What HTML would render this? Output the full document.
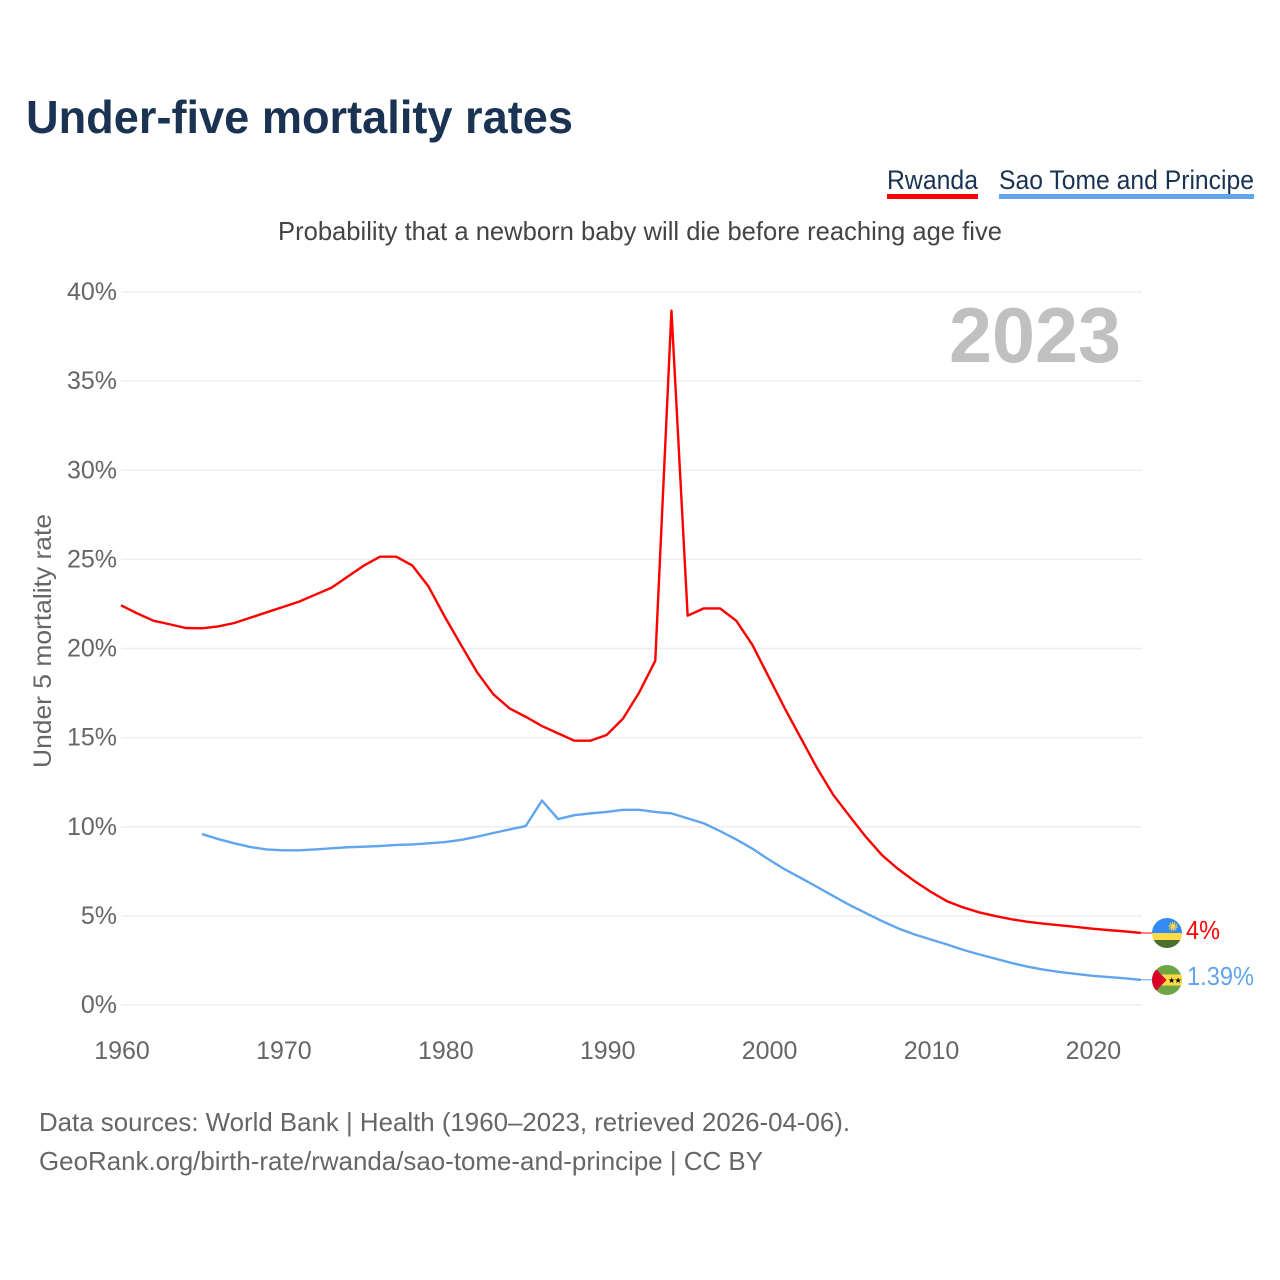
<!DOCTYPE html>
<html lang="en">
<head>
<meta charset="utf-8">
<title>Under-five mortality rates</title>
<style>
html,body{margin:0;padding:0;background:#fff;width:1280px;height:1280px;overflow:hidden}
svg{display:block}
text{font-family:"Liberation Sans",sans-serif}
</style>
</head>
<body>
<svg id="chart" width="1280" height="1280" viewBox="0 0 1280 1280" xmlns="http://www.w3.org/2000/svg">
  <defs>
    <clipPath id="flag-clip-a"><circle cx="1167" cy="933" r="15"/></clipPath>
    <clipPath id="flag-clip-b"><circle cx="1167" cy="980" r="15"/></clipPath>
  </defs>
  <text x="26" y="133" font-size="46" font-weight="700" fill="#1a3353" textLength="547" lengthAdjust="spacingAndGlyphs">Under-five mortality rates</text>

  <g>
    <text x="887" y="189" font-size="27" fill="#1a3353" textLength="91" lengthAdjust="spacingAndGlyphs">Rwanda</text>
    <rect x="887" y="194" width="91" height="5" fill="#ff0000"/>
  </g>
  <g>
    <text x="999" y="189" font-size="27" fill="#1a3353" textLength="255" lengthAdjust="spacingAndGlyphs">Sao Tome and Principe</text>
    <rect x="999" y="194" width="255" height="5" fill="#60a5ee"/>
  </g>

  <text x="278" y="240" font-size="26" fill="#444" textLength="724" lengthAdjust="spacingAndGlyphs">Probability that a newborn baby will die before reaching age five</text>

  <g id="grid"></g>
  <text x="949" y="362" font-size="78" font-weight="700" fill="#c0c0c0" textLength="172" lengthAdjust="spacingAndGlyphs">2023</text>
  <g id="y-ticks"></g>
  <g id="x-ticks"></g>
  <text transform="translate(51,641) rotate(-90)" text-anchor="middle" font-size="25" fill="#666" textLength="254" lengthAdjust="spacingAndGlyphs">Under 5 mortality rate</text>

  <g id="series"></g>

  <g clip-path="url(#flag-clip-a)">
    <rect x="1152" y="918" width="30" height="16" fill="#338af3"/>
    <rect x="1152" y="933" width="30" height="8" fill="#ffda44"/>
    <rect x="1152" y="940" width="30" height="8" fill="#496e2d"/>
    <circle cx="1173" cy="926.5" r="2.6" fill="#ffda44"/>
    <circle cx="1173" cy="926.5" r="3.7" fill="none" stroke="#ffda44" stroke-width="1.6" stroke-dasharray="1.3 1"/>
  </g>
  <g clip-path="url(#flag-clip-b)">
    <rect x="1152" y="965" width="30" height="30" fill="#6da544"/>
    <rect x="1152" y="974.5" width="30" height="11" fill="#ffda44"/>
    <polygon points="1152,965 1166.5,980 1152,995" fill="#d80027"/>
    <text x="1168" y="983" font-size="8" fill="#000">★</text>
    <text x="1174.5" y="983" font-size="8" fill="#000">★</text>
  </g>
  <text x="1186" y="939" font-size="26" fill="#ff0000" textLength="34" lengthAdjust="spacingAndGlyphs">4%</text>
  <text x="1187" y="985" font-size="26" fill="#60a5ee" textLength="67" lengthAdjust="spacingAndGlyphs">1.39%</text>

  <text x="39" y="1131" font-size="26" fill="#666" textLength="811" lengthAdjust="spacingAndGlyphs">Data sources: World Bank | Health (1960–2023, retrieved 2026-04-06).</text>
  <text x="39" y="1170" font-size="26" fill="#666" textLength="724" lengthAdjust="spacingAndGlyphs">GeoRank.org/birth-rate/rwanda/sao-tome-and-principe | CC BY</text>
</svg>
<script>
const yTickValues = [0, 5, 10, 15, 20, 25, 30, 35, 40];
const xTickYears = [1960, 1970, 1980, 1990, 2000, 2010, 2020];
const rwandaStartYear = 1960;
const rwandaValues = [22.42,21.97,21.56,21.36,21.15,21.13,21.24,21.43,21.73,22.03,22.33,22.63,23.02,23.41,24.03,24.65,25.15,25.15,24.65,23.47,21.78,20.2,18.66,17.43,16.64,16.17,15.65,15.24,14.83,14.83,15.15,16.06,17.52,19.31,38.95,21.84,22.25,22.25,21.56,20.2,18.42,16.64,14.96,13.28,11.78,10.6,9.44,8.41,7.63,6.96,6.36,5.83,5.48,5.2,4.99,4.81,4.67,4.56,4.47,4.38,4.28,4.2,4.13,4.04];
const saoTomeStartYear = 1965;
const saoTomeValues = [9.59,9.31,9.07,8.86,8.73,8.68,8.68,8.73,8.79,8.85,8.88,8.92,8.98,9.01,9.07,9.14,9.26,9.44,9.65,9.85,10.04,11.47,10.43,10.65,10.75,10.83,10.95,10.95,10.83,10.75,10.47,10.19,9.76,9.29,8.77,8.17,7.61,7.12,6.62,6.11,5.61,5.16,4.71,4.3,3.96,3.68,3.4,3.1,2.84,2.6,2.36,2.15,1.98,1.85,1.74,1.64,1.57,1.5,1.41];

const NS = 'http://www.w3.org/2000/svg';
const xScale = year => 121 + (year - 1960) * 16.19;
const yScale = pct => 1005 - pct * 17.825;
const grid = document.getElementById('grid');
const yTicks = document.getElementById('y-ticks');
const xTicks = document.getElementById('x-ticks');
const series = document.getElementById('series');

yTickValues.forEach(v => {
  const l = document.createElementNS(NS, 'line');
  
  
  l.setAttribute('x1', 121);
  l.setAttribute('x2', 1142);
  l.setAttribute('y1', yScale(v));
  l.setAttribute('y2', yScale(v));
  l.setAttribute('stroke', '#eeeeee');
  l.setAttribute('stroke-width', '1.5');
  grid.appendChild(l);
  const t = document.createElementNS(NS, 'text');
  
  
  t.setAttribute('x', 117);
  t.setAttribute('y', yScale(v) + 8);
  t.setAttribute('text-anchor', 'end');
  t.setAttribute('font-size', '25');
  t.setAttribute('fill', '#666');
  t.textContent = v + '%';
  yTicks.appendChild(t);
});

xTickYears.forEach(y => {
  const t = document.createElementNS(NS, 'text');
  
  
  t.setAttribute('x', xScale(y) + 1);
  t.setAttribute('y', 1059);
  t.setAttribute('text-anchor', 'middle');
  t.setAttribute('font-size', '25');
  t.setAttribute('fill', '#666');
  t.textContent = y;
  xTicks.appendChild(t);
});

function drawSeries(values, startYear, color, name) {
  const pts = values.map((v, i) => xScale(startYear + i).toFixed(2) + ',' + yScale(v).toFixed(2)).join(' ');
  const p = document.createElementNS(NS, 'polyline');
  
  
  p.setAttribute('points', pts);
  p.setAttribute('fill', 'none');
  p.setAttribute('stroke', color);
  p.setAttribute('stroke-width', '2.4');
  p.setAttribute('stroke-linejoin', 'round');
  series.appendChild(p);
  const last = values[values.length - 1];
  const c = document.createElementNS(NS, 'line');
  
  
  c.setAttribute('x1', xScale(startYear + values.length - 1));
  c.setAttribute('x2', 1153);
  c.setAttribute('y1', yScale(last));
  c.setAttribute('y2', yScale(last));
  c.setAttribute('stroke', color);
  c.setAttribute('stroke-width', '1');
  series.appendChild(c);
}
drawSeries(rwandaValues, rwandaStartYear, '#ff0000', 'line-rwanda');
drawSeries(saoTomeValues, saoTomeStartYear, '#60a5ee', 'line-sao-tome');
</script>
</body>
</html>
